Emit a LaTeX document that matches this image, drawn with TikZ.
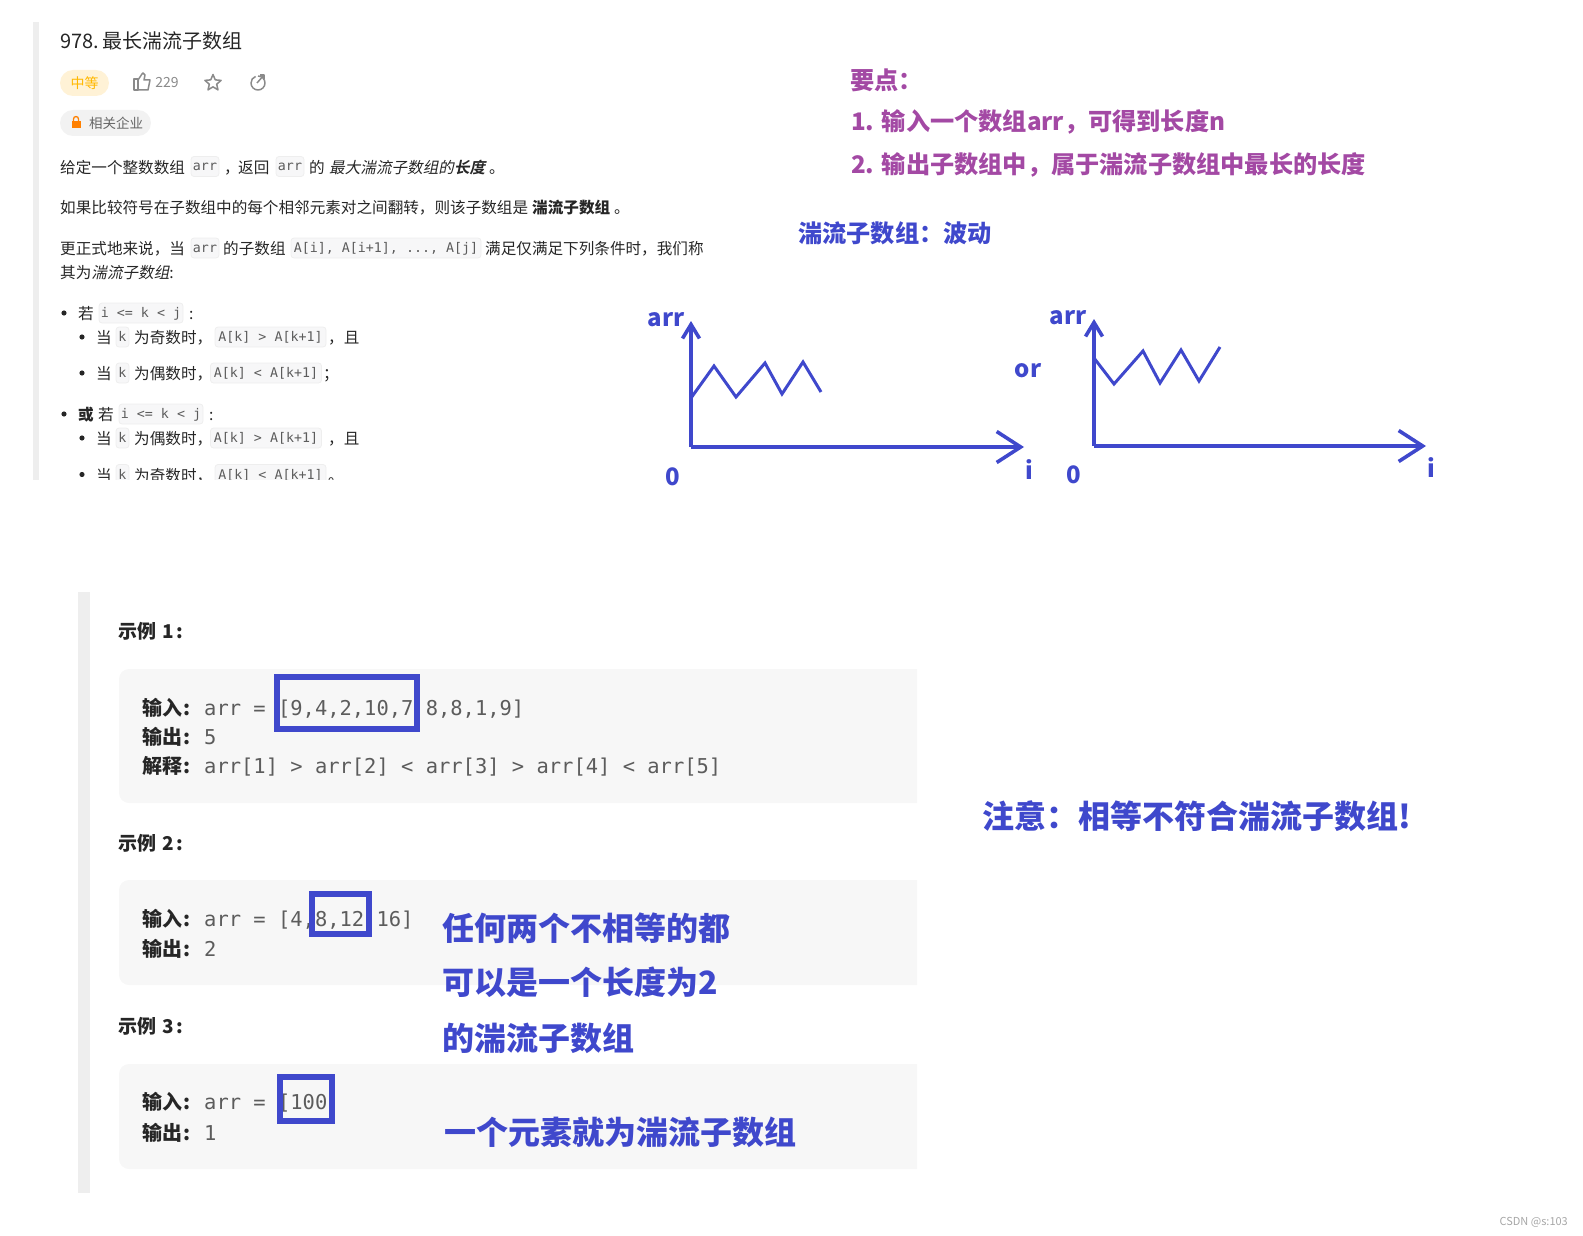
\documentclass[tikz,border=0pt]{standalone}
\usepackage{fontspec}
\usepackage{xcolor}
\usetikzlibrary{arrows.meta,shapes.geometric}
\setmainfont{Noto Sans CJK SC}
\setmonofont{DejaVu Sans Mono}
\newfontfamily\slantcjk[FakeSlant=0.2,BoldFont={Noto Sans CJK SC Bold},BoldFeatures={FakeSlant=0.2}]{Noto Sans CJK SC}
\definecolor{inkblue}{HTML}{3F48CC}
\definecolor{inkpurple}{HTML}{A349A4}
\definecolor{bodyink}{HTML}{262626}
\definecolor{codeink}{HTML}{5C5C5C}
\definecolor{chipfill}{HTML}{F7F7F8}
\definecolor{chipline}{HTML}{EEEEEE}
\definecolor{barfill}{HTML}{EEEEEE}
\definecolor{blockfill}{HTML}{F7F7F7}
\definecolor{iconink}{HTML}{8A8A8A}
\definecolor{levelfill}{HTML}{FFF2D6}
\definecolor{levelink}{HTML}{FFB800}
\tikzset{
  bodytext/.style={anchor=west,inner sep=0pt,text=bodyink,text height=15pt,text depth=1.5pt,font=\fontsize{15.6}{18}\selectfont},
  chip/.style={inner sep=0pt,minimum height=20pt,rounded corners=3pt,fill=chipfill,draw=chipline,line width=0.8pt,text=codeink,text height=11pt,text depth=2pt,font=\ttfamily\fontsize{13.3}{16}\selectfont},
  exampletitle/.style={anchor=west,inner sep=0pt,text=bodyink,text height=16pt,text depth=2pt,font=\bfseries\fontsize{19}{22}\selectfont},
  codelabel/.style={anchor=west,inner sep=0pt,text=bodyink,text height=18pt,text depth=2pt,font=\bfseries\fontsize{20}{24}\selectfont},
  codetext/.style={anchor=west,inner sep=0pt,text=codeink,text height=18pt,text depth=2pt,font=\ttfamily\fontsize{20.45}{24}\selectfont},
  purplenote/.style={anchor=west,inner sep=0pt,text=inkpurple,text height=20.5pt,text depth=2.3pt,font=\bfseries\fontsize{24.2}{28}\selectfont},
  bluenote/.style={anchor=west,inner sep=0pt,text=inkblue,text height=27pt,text depth=3pt,font=\bfseries\fontsize{32}{36}\selectfont},
  bluelabel/.style={inner sep=0pt,text=inkblue,font=\bfseries\fontsize{24}{28}\selectfont},
  axis/.style={draw=inkblue,line width=3.6pt},
  wave/.style={draw=inkblue,line width=3pt,line join=miter},
  markbox/.style={draw=inkblue,line width=5.4pt},
  bar/.style={fill=barfill},
  codeblock/.style={fill=blockfill},
  bulletdot/.style={fill=bodyink},
  icon/.style={draw=iconink,line width=1.5pt,line join=round},
}
\begin{document}
\begin{tikzpicture}[x=1pt,y=-1pt]
  \useasboundingbox (0,0) rectangle (1583,1236);
  % upper left: the problem text
  \fill[bar] (33,22) rectangle (38.5,480);
  \node[anchor=west,inner sep=0pt,text=bodyink,font=\fontsize{20}{24}\selectfont,text height=18pt,text depth=2pt] (title) at (60,41) {978.\hspace{3pt}最长湍流子数组};
  \node[fill=levelfill,rounded corners=13pt,minimum width=49pt,minimum height=26pt,inner sep=0pt,text=levelink,font=\fontsize{14}{16}\selectfont] (level) at (84.5,83) {中等};
  \draw[icon] (134,79) rectangle (138,90);
  \draw[icon] (138,80) -- (142,74) -- (143,73) -- (145,75) -- (144,80) -- (150,80) -- (148,90) -- (138,90);
  \node[inner sep=0pt,text=iconink,font=\fontsize{14}{16}\selectfont] (likes) at (167,83) {229};
  \node[star,star points=5,star point ratio=2.2,minimum size=17pt,inner sep=0pt,icon] (fav) at (213,83) {};
  \draw[icon] (258,76) arc (90:-250:7pt);
  \draw[icon] (257,83) -- (264,75);
  \draw[icon] (260,75) -- (264,75) -- (264,79);
  \node[fill=black!5,rounded corners=13pt,minimum width=91pt,minimum height=26pt,inner sep=0pt] (firm) at (105.5,123) {};
  \fill[orange] (71.5,121) rectangle (80.5,128);
  \draw[orange,line width=1.3pt] (73.5,121) -- (73.5,119) arc (180:0:2.5pt) -- (78.5,121);
  \node[anchor=west,inner sep=0pt,text=black!60,font=\fontsize{13.5}{16}\selectfont] (firmtext) at (89,123) {相关企业};

  \node[bodytext] (a1) at (60,166.5) {给定一个整数数组};
  \node[chip,minimum width=28pt] (a2) at (205,166.5) {arr};
  \node[bodytext] (a3) at (224,166.5) {，};
  \node[bodytext] (a4) at (238,166.5) {返回};
  \node[chip,minimum width=28pt] (a5) at (290,166.5) {arr};
  \node[bodytext] (a6) at (309,166.5) {的};
  \node[bodytext] (a7) at (329,166.5) {\slantcjk 最大湍流子数组的\textbf{长度}};
  \node[bodytext] (a8) at (489,166.5) {。};

  \node[bodytext] (b1) at (60,207) {如果比较符号在子数组中的每个相邻元素对之间翻转，则该子数组是};
  \node[bodytext] (b2) at (532,207) {\textbf{湍流子数组}};
  \node[bodytext] (b3) at (614,207) {。};

  \node[bodytext] (c1) at (60,248) {更正式地来说，当};
  \node[chip,minimum width=28pt] (c2) at (205,248) {arr};
  \node[bodytext] (c3) at (223,248) {的子数组};
  \node[chip,minimum width=190pt] (c4) at (386,248) {A[i], A[i+1], ..., A[j]};
  \node[bodytext] (c5) at (485,248) {满足仅满足下列条件时，我们称};
  \node[bodytext] (d1) at (60,272) {其为{\slantcjk 湍流子数组}:};

  \fill[bulletdot] (64,313) circle (2.6pt);
  \node[bodytext] (e1) at (78,313) {若};
  \node[chip,minimum width=84pt] (e2) at (141,313) {i <= k < j};
  \node[bodytext] (e3) at (189,313) {:};

  \fill[bulletdot] (82,337) circle (2.6pt);
  \node[bodytext] (f1) at (96,337) {当};
  \node[chip,minimum width=13pt] (f2) at (122.5,337) {k};
  \node[bodytext] (f3) at (134,337) {为奇数时，};
  \node[chip,minimum width=111pt] (f4) at (270.5,337) {A[k] > A[k+1]};
  \node[bodytext] (f5) at (328,337) {，且};

  \fill[bulletdot] (82,373) circle (2.6pt);
  \node[bodytext] (g1) at (96,373) {当};
  \node[chip,minimum width=13pt] (g2) at (122.5,373) {k};
  \node[bodytext] (g3) at (134,373) {为偶数时，};
  \node[chip,minimum width=111pt] (g4) at (266,373) {A[k] < A[k+1]};
  \node[bodytext] (g5) at (323,373) {；};

  \fill[bulletdot] (64,414) circle (2.6pt);
  \node[bodytext] (h1) at (78,414) {\textbf{或}};
  \node[bodytext] (h2) at (98,414) {若};
  \node[chip,minimum width=84pt] (h3) at (161,414) {i <= k < j};
  \node[bodytext] (h4) at (209,414) {:};

  \fill[bulletdot] (82,438) circle (2.6pt);
  \node[bodytext] (j1) at (96,438) {当};
  \node[chip,minimum width=13pt] (j2) at (122.5,438) {k};
  \node[bodytext] (j3) at (134,438) {为偶数时，};
  \node[chip,minimum width=111pt] (j4) at (266,438) {A[k] > A[k+1]};
  \node[bodytext] (j5) at (328,438) {，且};

  \fill[bulletdot] (82,474.5) circle (2.6pt);
  \node[bodytext] (k1) at (96,474.5) {当};
  \node[chip,minimum width=13pt] (k2) at (122.5,474.5) {k};
  \node[bodytext] (k3) at (134,474.5) {为奇数时，};
  \node[chip,minimum width=111pt] (k4) at (270.5,474.5) {A[k] < A[k+1]};
  \node[bodytext] (k5) at (328,474.5) {。};
  \fill[white] (39,480) rectangle (500,500);

  % upper right: notes and the two sketches
  \node[purplenote] (key) at (850,80) {要点：};
  \node[purplenote] (key1) at (851,121) {1. 输入一个数组arr，可得到长度n};
  \node[purplenote] (key2) at (851,164) {2. 输出子数组中，属于湍流子数组中最长的长度};
  \node[purplenote,text=inkblue] (wavy) at (798,233) {湍流子数组：波动};

  \coordinate (o1) at (691,447);
  \coordinate (y1) at (691,321);
  \coordinate (x1) at (1024,447);
  \draw[axis,-{Straight Barb[length=14pt,width=17pt]}] (o1) -- (y1);
  \draw[axis,-{Straight Barb[length=24pt,width=31pt]}] (o1) -- (x1);
  \draw[wave] (691,398) -- (714,366) -- (736,397) -- (765,363) -- (782,394) -- (803,362) -- (821,392);
  \node[bluelabel] (arr1) at (666,320) {arr};
  \node[bluelabel] (zero1) at (673,477) {0};
  \node[bluelabel] (i1) at (1029,470) {i};
  \node[bluelabel] (or) at (1028,371) {or};

  \coordinate (o2) at (1094,446);
  \coordinate (y2) at (1094,319);
  \coordinate (x2) at (1426,446);
  \draw[axis,-{Straight Barb[length=14pt,width=17pt]}] (o2) -- (y2);
  \draw[axis,-{Straight Barb[length=24pt,width=31pt]}] (o2) -- (x2);
  \draw[wave] (1094,358) -- (1114,384) -- (1143,351) -- (1160,383) -- (1181,350) -- (1199,381) -- (1220,347);
  \node[bluelabel] (arr2) at (1068,318) {arr};
  \node[bluelabel] (zero2) at (1074,475) {0};
  \node[bluelabel] (i2) at (1431,468) {i};

  % lower left: the three examples
  \fill[bar] (78,592) rectangle (90,1193);
  \node[exampletitle] (ex1) at (118,631) {示例\hspace{6pt}1\hspace{3pt}:};
  \fill[codeblock] (917,669) [rounded corners=10pt] -- (119,669) -- (119,803) [sharp corners] -- (917,803) -- cycle;
  \node[codelabel] (in1) at (142,707) {输入\hspace{1pt}:};
  \node[codetext] (in1v) at (204,707) {arr = [9,4,2,10,7 8,8,1,9]};
  \node[codelabel] (out1) at (142,736) {输出\hspace{1pt}:};
  \node[codetext] (out1v) at (204,736) {5};
  \node[codelabel] (why1) at (142,765) {解释\hspace{1pt}:};
  \node[codetext] (why1v) at (204,765) {arr[1] > arr[2] < arr[3] > arr[4] < arr[5]};
  \draw[markbox] (277,677) rectangle (417,729);

  \node[exampletitle] (ex2) at (118,843) {示例\hspace{6pt}2\hspace{3pt}:};
  \fill[codeblock] (917,880) [rounded corners=10pt] -- (119,880) -- (119,985) [sharp corners] -- (917,985) -- cycle;
  \node[codelabel] (in2) at (142,918) {输入\hspace{1pt}:};
  \node[codetext] (in2v) at (204,918) {arr = [4,8,12 16]};
  \node[codelabel] (out2) at (142,948) {输出\hspace{1pt}:};
  \node[codetext] (out2v) at (204,948) {2};
  \draw[markbox] (312,894) rectangle (369,934);

  \node[exampletitle] (ex3) at (118,1026) {示例\hspace{6pt}3\hspace{3pt}:};
  \fill[codeblock] (917,1064) [rounded corners=10pt] -- (119,1064) -- (119,1169) [sharp corners] -- (917,1169) -- cycle;
  \node[codelabel] (in3) at (142,1101) {输入\hspace{1pt}:};
  \node[codetext] (in3v) at (204,1101) {arr = [100};
  \node[codelabel] (out3) at (142,1132) {输出\hspace{1pt}:};
  \node[codetext] (out3v) at (204,1132) {1};
  \draw[markbox] (280,1077) rectangle (332,1121);

  % blue notes over and beside the examples
  \node[bluenote] (any1) at (442,928) {任何两个不相等的都};
  \node[bluenote] (any2) at (442,982) {可以是一个长度为2};
  \node[bluenote] (any3) at (442,1038) {的湍流子数组};
  \node[bluenote] (one) at (444,1132) {一个元素就为湍流子数组};
  \node[bluenote] (equal) at (982,816) {注意：相等不符合湍流子数组!};
  \node[anchor=east,inner sep=0pt,text=black!35,font=\fontsize{11}{13}\selectfont] (mark) at (1568,1222) {CSDN @s:103};
\end{tikzpicture}
\end{document}
